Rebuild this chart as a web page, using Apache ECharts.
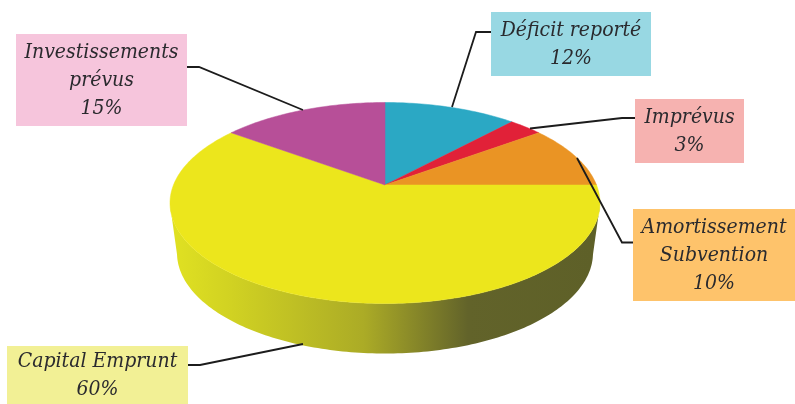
<!DOCTYPE html>
<html><head><meta charset="utf-8">
<style>html,body{margin:0;padding:0;background:#fff}#c{width:795px;height:404px}</style>
<script src="https://cdn.jsdelivr.net/npm/echarts@6/dist/echarts.min.js"></script>
</head><body><div id="c"></div>
<script>
const categories = ['Déficit reporté', 'Imprévus', 'Amortissement\nSubvention', 'Capital Emprunt', 'Investissements\nprévus'];
const values = [12, 3, 10, 60, 15];
const sliceColors = ['#2BA8C4', '#E12138', '#EA9424', '#ECE61C', '#B74F98'];
const boxColors = ['#98D8E3', '#F6B2B0', '#FEC36B', '#F2F095', '#F6C5DC'];

// Layout of the flattened pie (pixels)
const pie = {cx: 385, cy: 203, rx: 215, ry: 100.5, apexOffset: 0.179, depth: 50, bottomRx: 208};
// Layout of the callouts: [x, y, width, height], and leader polyline
const boxes = [[491,12,160,64],[635,99,109,64],[633,209,162,92],[7,346,181,58],[16,34,171,92]];
const leaders = [
  [[491,32],[476,32],[452,107]],
  [[635,118],[622,118],[530,128.5]],
  [[633,242.5],[622,242.5],[577,158]],
  [[188,365],[200,365],[303,344]],
  [[187,67],[199,67],[303,110]]
];
const sideStops = [[0,'#DFE022'],[0.12,'#D2D322'],[0.45,'#ABAB26'],[0.55,'#8E8E28'],[0.7,'#62632A'],[1,'#5E6028']];
const font = 'italic 21px "DejaVu Serif Condensed"';
const lineH = 28;

const total = values.reduce((a,b)=>a+b,0);
function rimPoint(theta){
  const dx = Math.sin(theta), dy = Math.cos(theta), k = pie.apexOffset;
  const b = k*dy, t = -b + Math.sqrt(b*b + 1 - k*k);
  return [pie.cx + pie.rx*t*dx, pie.cy - pie.ry*(k + t*dy)];
}
function renderSlice(params, api){
  const i = params.dataIndex;
  const before = values.slice(0,i).reduce((a,b)=>a+b,0);
  const a0 = before/total*2*Math.PI, a1 = (before+api.value(0))/total*2*Math.PI;
  const n = Math.max(4, Math.ceil((a1-a0)/(Math.PI/180)));
  const pts = [[pie.cx, pie.cy - pie.ry*pie.apexOffset]];
  const rim = [];
  for(let s=0;s<=n;s++){ rim.push(rimPoint(a0+(a1-a0)*s/n)); }
  const children = [];
  // wall: only the part of the rim facing the viewer (below the ellipse's widest line)
  const front = rim.filter(p=>p[1]>=pie.cy);
  if(front.length>1){
    const wall = front.slice();
    for(let s=front.length-1;s>=0;s--){
      const p = front[s];
      wall.push([pie.cx+(p[0]-pie.cx)*pie.bottomRx/pie.rx, p[1]+pie.depth]);
    }
    children.push({type:'polygon',shape:{points:wall},style:{fill:{type:'linear',x:pie.cx-pie.bottomRx,y:0,x2:pie.cx+pie.bottomRx,y2:0,global:true,
      colorStops:sideStops.map(s=>({offset:s[0],color:s[1]}))}}});
  }
  children.push({type:'polygon',shape:{points:pts.concat(rim)},style:{fill:sliceColors[i],stroke:sliceColors[i],lineWidth:0.5}});
  return {type:'group',children};
}
function renderCallout(params, api){
  const i = params.dataIndex, b = boxes[i];
  const lines = (categories[i]+'\n'+api.value(0)+'%').split('\n');
  const children = [
    {type:'polyline',shape:{points:leaders[i]},style:{fill:null,stroke:'#1c1c1c',lineWidth:1.8}},
    {type:'rect',shape:{x:b[0],y:b[1],width:b[2],height:b[3]},style:{fill:boxColors[i]}}
  ];
  const y0 = b[1]+b[3]/2-(lines.length-1)*lineH/2;
  lines.forEach((l,j)=>children.push({type:'text',style:{text:l,x:b[0]+b[2]/2,y:y0+j*lineH+1,align:'center',verticalAlign:'middle',font:font,fill:'#2a2a2e'}}));
  return {type:'group',children};
}
const chart = echarts.init(document.getElementById('c'),null,{renderer:'canvas'});
chart.setOption({
  animation:false,
  backgroundColor:'#fff',
  series:[
    {type:'custom',coordinateSystem:'none',data:values,renderItem:renderSlice,silent:true},
    {type:'custom',coordinateSystem:'none',data:values,renderItem:renderCallout,silent:true,z:3}
  ]
});
</script></body></html>
